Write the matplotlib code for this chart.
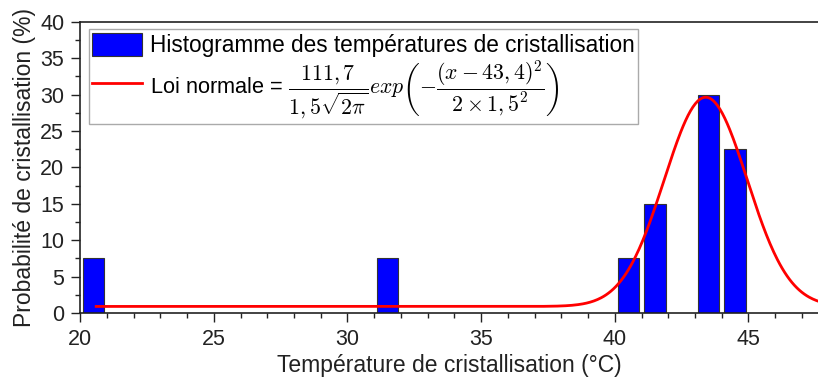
import numpy as np
import matplotlib
matplotlib.use("Agg")
import matplotlib.pyplot as plt
from matplotlib.ticker import MultipleLocator

# ================================ Data =====================================
bin_centers = [20.5, 31.5, 40.5, 41.5, 43.5, 44.5]
probabilities = [7.5, 7.5, 7.5, 15, 30, 22.5]

fit_mu = 43.4
fit_sigma = 1.55
fit_area = 111.7
fit_offset = 0.9
fit_x_start = 20.6
fit_x_end = 48.0

plt.rcParams["font.family"] = ["Liberation Sans", "DejaVu Sans"]
plt.rcParams["mathtext.fontset"] = "cm"

fig = plt.figure(figsize=(8.18, 3.78), dpi=100)
ax = fig.add_axes([0.098, 0.172, 0.902, 0.770])

bars = ax.bar(bin_centers, probabilities, width=0.8, color="#0000ff",
              edgecolor="#333333", linewidth=0.8, zorder=2)

xs = np.linspace(fit_x_start, fit_x_end, 600)
ys = fit_offset + fit_area / (fit_sigma * np.sqrt(2 * np.pi)) * np.exp(-(xs - fit_mu) ** 2 / (2 * fit_sigma ** 2))
line, = ax.plot(xs, ys, color="#ff0000", linewidth=2, zorder=3)

ax.set_xlim(20, 47.6)
ax.set_ylim(0, 40)
ax.xaxis.set_major_locator(MultipleLocator(5))
ax.xaxis.set_minor_locator(MultipleLocator(1))
ax.yaxis.set_major_locator(MultipleLocator(5))
ax.yaxis.set_minor_locator(MultipleLocator(2.5))
ax.tick_params(which="major", direction="out", length=6.5, width=1, labelsize=15.5, colors="#222222", pad=5)
ax.tick_params(which="minor", direction="out", length=3.5, width=1, colors="#222222")
ax.spines["right"].set_visible(False)
for s in ["left", "bottom", "top"]:
    ax.spines[s].set_linewidth(1.2)
    ax.spines[s].set_color("#222222")

ax.set_xlabel("Température de cristallisation (°C)", fontsize=16.5, color="#222222", labelpad=3)
ax.set_ylabel("Probabilité de cristallisation (%)", fontsize=16.5, color="#222222", labelpad=3)

leg = ax.legend([bars, line],
                ["Histogramme des températures de cristallisation",
                 r"Loi normale = $\dfrac{111,7}{1,5\sqrt{2\pi}}exp\left(-\dfrac{(x-43,4)^2}{2\times 1,5^2}\right)$"],
                loc="upper left", bbox_to_anchor=(0.012, 0.975), fontsize=16.3,
                frameon=True, fancybox=False, edgecolor="#aaaaaa", framealpha=1,
                handlelength=2.2, handleheight=1.2, handletextpad=0.35, borderpad=0.15,
                labelspacing=0.05, borderaxespad=0)
leg.get_frame().set_linewidth(1)
leg.get_texts()[1].set_fontsize(15.7)

plt.savefig("out.png", dpi=100)
